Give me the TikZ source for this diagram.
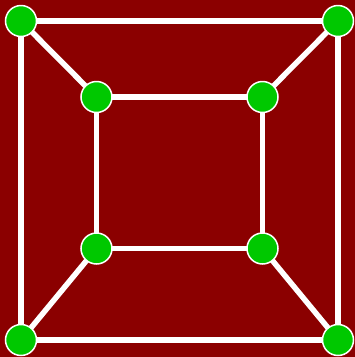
\documentclass[tikz,border=0pt]{standalone}
\definecolor{bgred}{HTML}{8B0000}
\definecolor{nodegreen}{HTML}{00C800}
\pgfdeclarelayer{bglayer}
\pgfdeclarelayer{edgelayer}
\pgfsetlayers{bglayer,edgelayer,main}
\begin{document}
\begin{tikzpicture}[x=1pt,y=-1pt,
  vtx/.style={circle,fill=nodegreen,draw=white,line width=1.5pt,minimum size=31pt,inner sep=0pt},
  edge/.style={draw=white,line width=5.5pt}]
\useasboundingbox (0,0) rectangle (355,357);
\node[vtx] (a) at (21,21) {};
\node[vtx] (b) at (338,21) {};
\node[vtx] (c) at (21,340) {};
\node[vtx] (d) at (338,340) {};
\node[vtx] (e) at (96.5,97) {};
\node[vtx] (f) at (262.5,97) {};
\node[vtx] (g) at (96.5,248.5) {};
\node[vtx] (h) at (262.5,248.5) {};
\begin{pgfonlayer}{bglayer}
\fill[bgred] (0,0) rectangle (355,357);
\end{pgfonlayer}
\begin{pgfonlayer}{edgelayer}
\path[edge] (a.center) -- (b.center) -- (d.center) -- (c.center) -- cycle;
\path[edge] (e.center) -- (f.center) -- (h.center) -- (g.center) -- cycle;
\path[edge] (a.center) -- (e.center);
\path[edge] (b.center) -- (f.center);
\path[edge] (c.center) -- (g.center);
\path[edge] (d.center) -- (h.center);
\end{pgfonlayer}
\end{tikzpicture}
\end{document}
